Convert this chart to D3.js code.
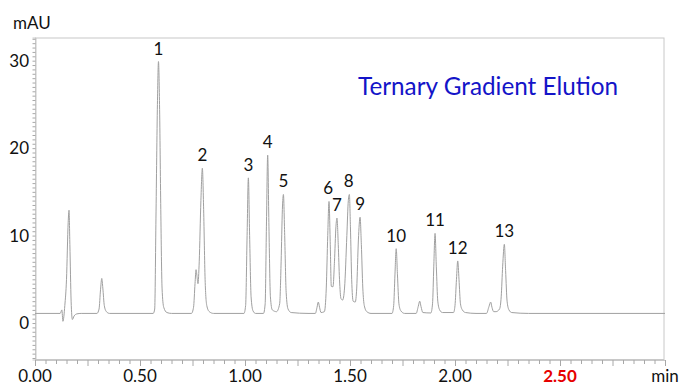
<!DOCTYPE html>
<html>
<head>
<meta charset="utf-8">
<script src="https://cdn.jsdelivr.net/npm/d3@7"></script>
<style>
  body { margin: 0; background: #fff; }
  text { font-family: Lato, "Liberation Sans", sans-serif; }
</style>
</head>
<body>
<div id="container"></div>
<script>
'use strict';

// trace: [time (min), signal (mAU)]
const trace = [
    [0.000, 1.1], [0.120, 1.1], [0.128, 1.5], [0.133, 0.2], [0.142, 2.0], [0.150, 5.0],
    [0.158, 11.5], [0.162, 12.9], [0.166, 9.0], [0.172, 2.5], [0.178, 0.4], [0.186, 0.8],
    [0.200, 1.05], [0.220, 1.1],
    [0.295, 1.1], [0.305, 1.6], [0.312, 3.8], [0.318, 5.1], [0.323, 4.0], [0.330, 2.0],
    [0.340, 1.3], [0.355, 1.1],
    [0.563, 1.1], [0.570, 1.6], [0.576, 12], [0.583, 25], [0.588, 29.9], [0.593, 25],
    [0.599, 13], [0.605, 4], [0.613, 1.8], [0.628, 1.2], [0.650, 1.1],
    [0.745, 1.1], [0.755, 1.8], [0.762, 4.5], [0.767, 6.1], [0.772, 5.2], [0.776, 4.5],
    [0.782, 7], [0.790, 14], [0.797, 17.7], [0.803, 13], [0.810, 5], [0.818, 2],
    [0.830, 1.3], [0.850, 1.1],
    [0.995, 1.1], [1.003, 2], [1.010, 10], [1.016, 16.6], [1.022, 10], [1.029, 3],
    [1.038, 1.4], [1.050, 1.1],
    [1.088, 1.1], [1.096, 2.2], [1.102, 11], [1.108, 19.2], [1.114, 11], [1.121, 3],
    [1.130, 1.5], [1.150, 1.3],
    [1.165, 2.2], [1.172, 7], [1.178, 13], [1.183, 14.7], [1.189, 10], [1.196, 3.5],
    [1.205, 1.6], [1.220, 1.2], [1.300, 1.1],
    [1.335, 1.1], [1.343, 1.8], [1.349, 2.4], [1.355, 1.8], [1.362, 1.2],
    [1.378, 1.3], [1.387, 4], [1.394, 10], [1.400, 13.9], [1.406, 9], [1.411, 4.2],
    [1.419, 4.15], [1.426, 7], [1.433, 11], [1.438, 12.0], [1.444, 9], [1.450, 5],
    [1.457, 2.8], [1.465, 2.63], [1.474, 4], [1.485, 10], [1.492, 14], [1.497, 14.7],
    [1.502, 11], [1.508, 5], [1.515, 2.5], [1.525, 2.4], [1.532, 4], [1.540, 9.5],
    [1.548, 12.1], [1.554, 9], [1.561, 4], [1.568, 2], [1.580, 1.3], [1.600, 1.1],
    [1.700, 1.1], [1.708, 2], [1.714, 5.5], [1.720, 8.5], [1.726, 5.5], [1.733, 2.2],
    [1.742, 1.4], [1.760, 1.1],
    [1.815, 1.1], [1.825, 1.9], [1.832, 2.5], [1.838, 1.9], [1.847, 1.2],
    [1.885, 1.15], [1.893, 2.2], [1.899, 6.5], [1.905, 10.25], [1.911, 6.5], [1.918, 2.5],
    [1.927, 1.5], [1.940, 1.2],
    [1.993, 1.2], [2.000, 2], [2.007, 5], [2.013, 7.1], [2.019, 5], [2.026, 2.2],
    [2.035, 1.5], [2.050, 1.2], [2.100, 1.1],
    [2.150, 1.1], [2.162, 1.9], [2.170, 2.4], [2.176, 1.8], [2.184, 1.3], [2.195, 1.3],
    [2.212, 1.6], [2.220, 3.0], [2.227, 6.5], [2.235, 9.0], [2.241, 6], [2.248, 2.5],
    [2.257, 1.5], [2.270, 1.2], [2.350, 1.1], [3.000, 1.1]
];

// numbered peaks
const peakNames   = ['1', '2', '3', '4', '5', '6', '7', '8', '9', '10', '11', '12', '13'];
const peakTimes   = [0.588, 0.797, 1.016, 1.108, 1.183, 1.396, 1.438, 1.494, 1.548, 1.720, 1.905, 2.013, 2.235];
const peakHeights = [29.9, 17.7, 16.6, 19.2, 14.7, 13.9, 12.0, 14.7, 12.1, 8.5, 10.25, 7.1, 9.0];

// axes
const xTicks      = [0, 0.5, 1.0, 1.5, 2.0, 2.5, 3.0];
const xTickLabels = ['0.00', '0.50', '1.00', '1.50', '2.00', '2.50', 'min'];
const yTicks      = [0, 10, 20, 30];

const width = 680, height = 385;
const plot = { left: 35, right: 664, top: 37.5, bottom: 359.5 };
const color = {
    frame: '#c8c8c8',
    tick: '#a8a8a8',
    trace: '#a0a0a0',
    title: '#1414c8',
    red: '#e60000'
};

const svg = d3.select('#container')
    .append('svg')
    .attr('width', width)
    .attr('height', height);

const x = d3.scaleLinear().domain([0, 3.0]).range([plot.left, plot.left + 630]);
const y = d3.scaleLinear().domain([-4.17, 32.65]).range([plot.bottom, plot.top]);

// frame
svg.append('rect')
    .attr('x', plot.left + 0.5)
    .attr('y', plot.top + 0.5)
    .attr('width', plot.right - plot.left - 0.5)
    .attr('height', plot.bottom - plot.top - 0.5)
    .attr('fill', 'none')
    .attr('stroke', color.frame);

// y axis: small ticks every 0.5 mAU, labels at 0/10/20/30
const yAxis = svg.append('g')
    .attr('transform', `translate(${plot.left + 0.5},0)`)
    .call(d3.axisLeft(y)
        .tickValues(d3.range(-4, 32.6, 0.5))
        .tickSize(3)
        .tickFormat(''));
yAxis.select('.domain').attr('stroke', color.frame);
yAxis.selectAll('.tick line').attr('stroke', color.tick);

svg.append('g').selectAll('text')
    .data(yTicks)
    .join('text')
    .attr('x', 29)
    .attr('y', d => y(d))
    .attr('dy', '0.36em')
    .attr('text-anchor', 'end')
    .attr('font-size', 17)
    .attr('fill', '#111')
    .text(d => d);

// x axis: small ticks every 0.05 min, longer ones every 0.25
const xAxis = svg.append('g')
    .attr('transform', `translate(0,${plot.bottom + 0.5})`)
    .call(d3.axisBottom(x)
        .tickValues(d3.range(0, 3.001, 0.05))
        .tickSize(4)
        .tickFormat(''));
xAxis.select('.domain').attr('stroke', color.frame);
xAxis.selectAll('.tick line')
    .attr('stroke', color.tick)
    .attr('y2', d => Math.abs(d / 0.25 - Math.round(d / 0.25)) < 1e-6 ? 6 : 4);

svg.append('g').selectAll('text')
    .data(xTicks)
    .join('text')
    .attr('x', d => x(d))
    .attr('y', 382)
    .attr('text-anchor', 'middle')
    .attr('font-size', 17)
    .attr('font-weight', (d, i) => xTickLabels[i] === '2.50' ? 'bold' : 'normal')
    .attr('fill', (d, i) => xTickLabels[i] === '2.50' ? color.red : '#111')
    .text((d, i) => xTickLabels[i]);

svg.append('text')
    .attr('x', 13)
    .attr('y', 29)
    .attr('font-size', 17)
    .attr('fill', '#111')
    .text('mAU');

// chromatogram
const line = d3.line()
    .x(d => x(d[0]))
    .y(d => y(d[1]))
    .curve(d3.curveMonotoneX);

svg.append('path')
    .datum(trace)
    .attr('d', line)
    .attr('fill', 'none')
    .attr('stroke', color.trace)
    .attr('stroke-width', 1);

// peak numbers
svg.append('g').selectAll('text')
    .data(peakNames)
    .join('text')
    .attr('x', (d, i) => x(peakTimes[i]))
    .attr('y', (d, i) => y(peakHeights[i]) - 7)
    .attr('text-anchor', 'middle')
    .attr('font-size', 17)
    .attr('fill', '#111')
    .text(d => d);

svg.append('text')
    .attr('x', 358)
    .attr('y', 95)
    .attr('font-size', 24.3)
    .attr('fill', color.title)
    .text('Ternary Gradient Elution');
</script>
</body>
</html>
